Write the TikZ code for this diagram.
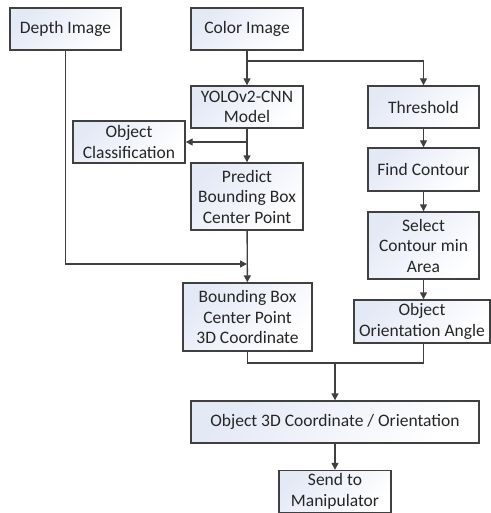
\documentclass[tikz,border=0pt]{standalone}
\usepackage{fontspec}
\setmainfont{Carlito}
\usetikzlibrary{arrows.meta}
\definecolor{boxblue}{RGB}{228,233,246}
\definecolor{edge}{RGB}{64,64,64}
\begin{document}
\begin{tikzpicture}[
    x=1pt, y=-1pt,
    box/.style={draw=edge, line width=1.4pt, top color=boxblue, bottom color=white,
        shading angle=45, align=center, inner sep=1pt, text=black!85,
        font=\fontsize{17.5}{20.5}\selectfont, minimum width=112pt, minimum height=42pt},
    link/.style={draw=edge, line width=1.4pt},
    arr/.style={link, -{Triangle[length=7pt,width=7pt]}}
]
    \useasboundingbox (0,0) rectangle (490,513);
    % input images
    \node[box, minimum width=111pt] (depth) at (65.5, 29) {Depth Image};
    \node[box] (color) at (247, 29) {Color Image};
    % detection branch
    \node[box] (yolo) at (247, 107) {YOLOv2-CNN\\Model};
    \node[box] (cls) at (129, 142) {Object\\Classification};
    \node[box, minimum height=67pt] (predict) at (247, 196.5) {Predict\\Bounding Box\\Center Point};
    \node[box, minimum width=129pt, minimum height=68pt] (bb3d) at (247.5, 317) {Bounding Box\\Center Point\\3D Coordinate};
    % contour branch
    \node[box, minimum width=111pt] (thresh) at (423.5, 107) {Threshold};
    \node[box, minimum width=111pt, minimum height=43pt] (contour) at (423.5, 169.5) {Find Contour};
    \node[box, minimum width=111pt, minimum height=67pt] (select) at (423.5, 245.5) {Select\\Contour min\\Area};
    \node[box, minimum width=136pt, minimum height=43pt] (orient) at (422, 321.5) {Object\\Orientation Angle};
    % output
    \node[box, minimum width=288pt] (obj3d) at (335, 422) {Object 3D Coordinate / Orientation};
    \node[box] (send) at (335, 491.5) {Send to\\Manipulator};
    \coordinate (split) at (247, 61);
    \coordinate (dj) at (247, 264);
    \coordinate (mj) at (335, 363);
    \draw[arr] (color) -- (yolo);
    \draw[arr] (split) -| (thresh);
    \draw[arr] (yolo) -- (predict);
    \draw[arr] (yolo.south |- cls.east) -- (cls.east);
    \draw[arr] (depth) |- (dj);
    \draw[arr] (predict) -- (bb3d);
    \draw[arr] (thresh) -- (contour);
    \draw[arr] (contour) -- (select);
    \draw[arr] (select.south) -- (select.south |- orient.north);
    \draw[link] (bb3d) |- (mj) -| (select.south |- orient.south);
    \draw[arr] (mj) -- (obj3d);
    \draw[arr] (obj3d) -- (send);
\end{tikzpicture}
\end{document}
